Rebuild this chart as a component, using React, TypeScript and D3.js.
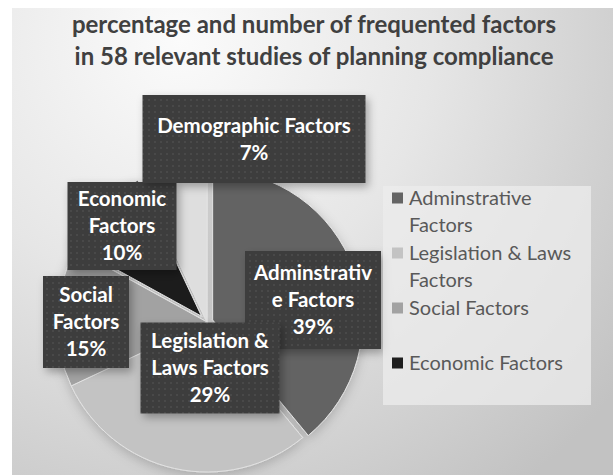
import * as d3 from 'd3';
import React, { useEffect, useRef } from 'react';

const categories = [
  'Adminstrative Factors',
  'Legislation & Laws Factors',
  'Social Factors',
  'Economic Factors',
  'Demographic Factors',
];
const percentages = [39, 29, 15, 10, 7];
const legendCategories = ['Adminstrative Factors', 'Legislation & Laws Factors', 'Social Factors', 'Economic Factors'];
const titleLines = ['percentage and number of frequented factors', 'in 58 relevant studies of planning compliance'];

// label text lines, as broken in the original
const labelLines: Record<string, string[]> = {
  'Adminstrative Factors': ['Adminstrativ', 'e Factors'],
  'Legislation & Laws Factors': ['Legislation &', 'Laws Factors'],
  'Social Factors': ['Social', 'Factors'],
  'Economic Factors': ['Economic', 'Factors'],
  'Demographic Factors': ['Demographic Factors'],
};
const legendLines: Record<string, string[]> = {
  'Adminstrative Factors': ['Adminstrative', 'Factors'],
  'Legislation & Laws Factors': ['Legislation & Laws', 'Factors'],
  'Social Factors': ['Social Factors'],
  'Economic Factors': ['Economic Factors'],
};

const App = () => {
  const ref = useRef<SVGSVGElement>(null);

  useEffect(() => {
    const width = 613, height = 475;
    const cx = 207, cy = 322, radius = 150;

    const color = d3.scaleOrdinal<string, string>()
      .domain(categories)
      .range(['#646464', '#c3c3c3', '#a2a2a2', '#1e1e1e', '#dedede']);

    // slice explode and label box placement (relative to pie centre)
    const explode: Record<string, number> = { 'Adminstrative Factors': 6, 'Economic Factors': 8 };
    const labelBox: Record<string, { dx: number; dy: number; w: number; h: number }> = {
      'Adminstrative Factors': { dx: 106, dy: -22, w: 136, h: 98 },
      'Legislation & Laws Factors': { dx: 3, dy: 46, w: 139, h: 91 },
      'Social Factors': { dx: -121, dy: 0, w: 86, h: 92 },
      'Economic Factors': { dx: -85, dy: -96, w: 109, h: 88 },
      'Demographic Factors': { dx: 47, dy: -183, w: 223, h: 88 },
    };

    const svg = d3.select(ref.current);
    svg.selectAll('*').remove();

    const defs = svg.append('defs');
    const bg = defs.append('radialGradient').attr('id', 'bg')
      .attr('gradientUnits', 'userSpaceOnUse')
      .attr('cx', 180).attr('cy', 40).attr('r', 560);
    bg.append('stop').attr('offset', '0%').attr('stop-color', '#fbfbfb');
    bg.append('stop').attr('offset', '45%').attr('stop-color', '#e6e6e6');
    bg.append('stop').attr('offset', '100%').attr('stop-color', '#c2c2c2');

    const pat = defs.append('pattern').attr('id', 'dots')
      .attr('patternUnits', 'userSpaceOnUse').attr('width', 6).attr('height', 6);
    pat.append('rect').attr('width', 6).attr('height', 6).attr('fill', '#3e3e3e');
    pat.append('circle').attr('cx', 3).attr('cy', 3).attr('r', 0.8).attr('fill', '#555555');

    const sh = defs.append('filter').attr('id', 'shadow')
      .attr('x', '-30%').attr('y', '-30%').attr('width', '160%').attr('height', '160%');
    sh.append('feDropShadow').attr('dx', 3).attr('dy', 4).attr('stdDeviation', 4)
      .attr('flood-color', '#000').attr('flood-opacity', 0.3);

    const psh = defs.append('filter').attr('id', 'pieShadow')
      .attr('x', '-30%').attr('y', '-30%').attr('width', '160%').attr('height', '160%');
    psh.append('feDropShadow').attr('dx', 0).attr('dy', 3).attr('stdDeviation', 6)
      .attr('flood-color', '#000').attr('flood-opacity', 0.2);

    svg.append('rect')
      .attr('x', 12).attr('y', 8)
      .attr('width', width - 12).attr('height', height - 8)
      .attr('fill', 'url(#bg)');

    // title
    svg.append('text')
      .attr('x', 314).attr('y', 33)
      .attr('text-anchor', 'middle')
      .attr('font-family', 'Lato, sans-serif')
      .attr('font-weight', 700)
      .attr('font-size', 24)
      .attr('fill', '#404040')
      .selectAll('tspan')
      .data(titleLines)
      .join('tspan')
      .attr('x', 314)
      .attr('dy', (d, i) => (i === 0 ? 0 : 32))
      .text(d => d);

    const data = categories.map((c, i) => ({ category: c, value: percentages[i] }));
    const pie = d3.pie<{ category: string; value: number }>()
      .sort(null)
      .value(d => d.value);
    const arcs = pie(data);
    const arc = d3.arc<d3.PieArcDatum<{ category: string; value: number }>>()
      .innerRadius(0)
      .outerRadius(radius);

    const pieG = svg.append('g')
      .attr('transform', `translate(${cx},${cy})`)
      .attr('filter', 'url(#pieShadow)');

    pieG.selectAll('path')
      .data(arcs)
      .join('path')
      .attr('transform', d => {
        const e = explode[d.data.category] || 0;
        const a = (d.startAngle + d.endAngle) / 2;
        return `translate(${Math.sin(a) * e},${-Math.cos(a) * e})`;
      })
      .attr('d', arc)
      .attr('fill', d => color(d.data.category))
      .attr('stroke', '#e2e2e2')
      .attr('stroke-width', 1);

    // data labels
    const labels = svg.append('g')
      .selectAll('g')
      .data(arcs)
      .join('g')
      .attr('transform', d => {
        const b = labelBox[d.data.category];
        return `translate(${cx + b.dx},${cy + b.dy})`;
      });

    labels.append('rect')
      .attr('x', d => -labelBox[d.data.category].w / 2)
      .attr('y', d => -labelBox[d.data.category].h / 2)
      .attr('width', d => labelBox[d.data.category].w)
      .attr('height', d => labelBox[d.data.category].h)
      .attr('fill', 'url(#dots)')
      .attr('filter', 'url(#shadow)');

    labels.append('text')
      .attr('text-anchor', 'middle')
      .attr('font-family', 'Lato, sans-serif')
      .attr('font-weight', 700)
      .attr('font-size', 20.5)
      .attr('fill', '#ffffff')
      .each(function (d) {
        const lines = [...labelLines[d.data.category], `${d.data.value}%`];
        const t = d3.select(this);
        const lh = 27;
        lines.forEach((l, i) => {
          t.append('tspan')
            .attr('x', 0)
            .attr('y', (i - (lines.length - 1) / 2) * lh + 7)
            .text(l);
        });
      });

    // legend
    const leg = svg.append('g');
    leg.append('rect')
      .attr('x', 383).attr('y', 186)
      .attr('width', 208).attr('height', 219)
      .attr('fill', '#ececec')
      .attr('opacity', 0.75);

    const item = leg.selectAll('g.item')
      .data(legendCategories)
      .join('g')
      .attr('class', 'item')
      .attr('transform', (d, i) => `translate(392,${198 + i * 55})`);

    item.append('rect')
      .attr('x', 0).attr('y', -5.5)
      .attr('width', 11).attr('height', 11)
      .attr('fill', d => color(d));

    item.append('text')
      .attr('font-family', 'Lato, sans-serif')
      .attr('font-size', 20)
      .attr('fill', '#595959')
      .each(function (d) {
        const t = d3.select(this);
        legendLines[d].forEach((l, i) => {
          t.append('tspan').attr('x', 17).attr('y', i * 27 + 7).text(l);
        });
      });
  }, []);

  return (
    <div style={{ position: 'absolute', left: 0, top: 0 }}>
      <svg ref={ref} width={613} height={475} style={{ display: 'block' }} />
    </div>
  );
};

export default App;
